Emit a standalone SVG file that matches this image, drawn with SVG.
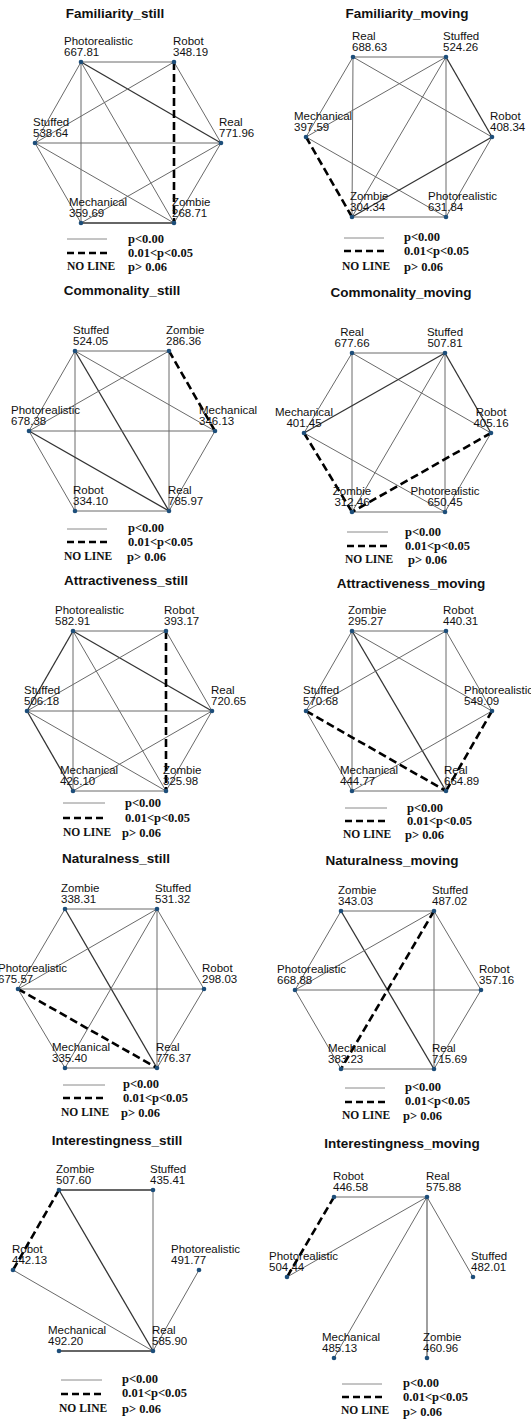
<svg xmlns="http://www.w3.org/2000/svg" width="531" height="1419" viewBox="0 0 531 1419">
<style>
.bg{fill:#ffffff}
.t{font-family:"Liberation Sans",Arial,sans-serif;font-weight:bold;font-size:13.5px;fill:#111;text-anchor:middle}
.lb{font-family:"Liberation Sans",Arial,sans-serif;font-size:11.5px;fill:#111}
.c{text-anchor:middle}
.n{fill:#1d4e7a}
.edges line{fill:none}
.e{stroke:#6a6a6a;stroke-width:1}
.d{stroke:#333;stroke-width:1.3}
.g{stroke:#888;stroke-width:1.6}
.x{stroke:#000;stroke-width:2.6;stroke-dasharray:8 4}
.ls{stroke:#8a8a8a;stroke-width:1}
.lx{stroke:#000;stroke-width:2.6;stroke-dasharray:7 4}
.lg{font-family:"Liberation Serif","Times New Roman",serif;font-weight:bold;font-size:12.5px;fill:#111}
.nl{font-family:"Liberation Serif","Times New Roman",serif;font-weight:bold;font-size:11.5px;fill:#111}
</style>
<rect class="bg" x="0" y="0" width="531" height="1419"/>

<!-- Panel 1 -->
<g id="familiarity-still">
<text class="t" x="115" y="18">Familiarity_still</text>
<g id="p1-edges" class="edges">
<line class="e" x1="81" y1="62" x2="174" y2="62"/>
<line class="e" x1="81" y1="62" x2="35" y2="143"/>
<line class="e" x1="81" y1="62" x2="81" y2="223"/>
<line class="d" x1="81" y1="62" x2="221" y2="143"/>
<line class="e" x1="81" y1="62" x2="174" y2="223"/>
<line class="e" x1="174" y1="62" x2="35" y2="143"/>
<line class="e" x1="174" y1="62" x2="221" y2="143"/>
<line class="e" x1="35" y1="143" x2="221" y2="143"/>
<line class="e" x1="35" y1="143" x2="81" y2="223"/>
<line class="e" x1="35" y1="143" x2="174" y2="223"/>
<line class="e" x1="221" y1="143" x2="81" y2="223"/>
<line class="e" x1="221" y1="143" x2="174" y2="223"/>
<line class="d" x1="81" y1="223" x2="174" y2="223"/>
<line class="x" x1="174" y1="62" x2="174" y2="223"/>
</g>
<g id="p1-photorealistic"><circle class="n" cx="81" cy="62" r="2.3"/><text class="lb" x="64" y="45">Photorealistic</text><text class="lb" x="64" y="56">667.81</text></g>
<g id="p1-robot"><circle class="n" cx="174" cy="62" r="2.3"/><text class="lb" x="173" y="45">Robot</text><text class="lb" x="173" y="56">348.19</text></g>
<g id="p1-real"><circle class="n" cx="221" cy="143" r="2.3"/><text class="lb" x="219" y="126">Real</text><text class="lb" x="219" y="137">771.96</text></g>
<g id="p1-zombie"><circle class="n" cx="174" cy="223" r="2.3"/><text class="lb" x="172" y="206">Zombie</text><text class="lb" x="172" y="217">268.71</text></g>
<g id="p1-mechanical"><circle class="n" cx="81" cy="223" r="2.3"/><text class="lb" x="69" y="206">Mechanical</text><text class="lb" x="69" y="217">359.69</text></g>
<g id="p1-stuffed"><circle class="n" cx="35" cy="143" r="2.3"/><text class="lb" x="33" y="126">Stuffed</text><text class="lb" x="33" y="137">538.64</text></g>
<g id="p1-legend"><line class="ls" x1="67" y1="239" x2="107" y2="239"/><line class="lx" x1="67" y1="253" x2="107" y2="253"/>
<text class="lg" x="128" y="243">p&lt;0.00</text><text class="lg" x="128" y="257">0.01&lt;p&lt;0.05</text><text class="nl" x="67" y="270">NO LINE</text><text class="lg" x="128" y="271">p&gt; 0.06</text></g>
</g>

<!-- Panel 2 -->
<g id="familiarity-moving">
<text class="t" x="407" y="18">Familiarity_moving</text>
<g id="p2-edges" class="edges">
<line class="e" x1="353" y1="57" x2="446" y2="57"/>
<line class="e" x1="353" y1="57" x2="306" y2="137"/>
<line class="e" x1="353" y1="57" x2="352" y2="217"/>
<line class="e" x1="353" y1="57" x2="492" y2="137"/>
<line class="e" x1="446" y1="57" x2="306" y2="137"/>
<line class="e" x1="446" y1="57" x2="352" y2="217"/>
<line class="e" x1="446" y1="57" x2="446" y2="217"/>
<line class="d" x1="446" y1="57" x2="492" y2="137"/>
<line class="e" x1="306" y1="137" x2="446" y2="217"/>
<line class="d" x1="492" y1="137" x2="352" y2="217"/>
<line class="e" x1="492" y1="137" x2="446" y2="217"/>
<line class="e" x1="352" y1="217" x2="446" y2="217"/>
<line class="x" x1="306" y1="137" x2="352" y2="217"/>
</g>
<g id="p2-real"><circle class="n" cx="353" cy="57" r="2.3"/><text class="lb" x="352" y="40">Real</text><text class="lb" x="352" y="51">688.63</text></g>
<g id="p2-stuffed"><circle class="n" cx="446" cy="57" r="2.3"/><text class="lb" x="443" y="40">Stuffed</text><text class="lb" x="443" y="51">524.26</text></g>
<g id="p2-robot"><circle class="n" cx="492" cy="137" r="2.3"/><text class="lb" x="490" y="120">Robot</text><text class="lb" x="490" y="131">408.34</text></g>
<g id="p2-photorealistic"><circle class="n" cx="446" cy="217" r="2.3"/><text class="lb" x="428" y="200">Photorealistic</text><text class="lb" x="428" y="211">631.84</text></g>
<g id="p2-zombie"><circle class="n" cx="352" cy="217" r="2.3"/><text class="lb" x="350" y="200">Zombie</text><text class="lb" x="350" y="211">304.34</text></g>
<g id="p2-mechanical"><circle class="n" cx="306" cy="137" r="2.3"/><text class="lb" x="294" y="120">Mechanical</text><text class="lb" x="294" y="131">397.59</text></g>
<g id="p2-legend"><line class="ls" x1="344" y1="238" x2="384" y2="238"/><line class="lx" x1="344" y1="251" x2="384" y2="251"/>
<text class="lg" x="404" y="241">p&lt;0.00</text><text class="lg" x="404" y="255">0.01&lt;p&lt;0.05</text><text class="nl" x="342" y="270">NO LINE</text><text class="lg" x="404" y="271">p&gt; 0.06</text></g>
</g>

<!-- Panel 3 -->
<g id="commonality-still">
<text class="t" x="122" y="295">Commonality_still</text>
<g id="p3-edges" class="edges">
<line class="e" x1="75" y1="351" x2="169" y2="351"/>
<line class="e" x1="75" y1="351" x2="29" y2="431"/>
<line class="e" x1="75" y1="351" x2="75" y2="511"/>
<line class="d" x1="75" y1="351" x2="169" y2="511"/>
<line class="e" x1="75" y1="351" x2="215" y2="431"/>
<line class="e" x1="169" y1="351" x2="29" y2="431"/>
<line class="e" x1="169" y1="351" x2="169" y2="511"/>
<line class="e" x1="29" y1="431" x2="215" y2="431"/>
<line class="e" x1="29" y1="431" x2="75" y2="511"/>
<line class="d" x1="29" y1="431" x2="169" y2="511"/>
<line class="e" x1="215" y1="431" x2="169" y2="511"/>
<line class="e" x1="75" y1="511" x2="169" y2="511"/>
<line class="x" x1="169" y1="351" x2="215" y2="431"/>
</g>
<g id="p3-stuffed"><circle class="n" cx="75" cy="351" r="2.3"/><text class="lb" x="73" y="334">Stuffed</text><text class="lb" x="73" y="345">524.05</text></g>
<g id="p3-zombie"><circle class="n" cx="169" cy="351" r="2.3"/><text class="lb" x="166" y="334">Zombie</text><text class="lb" x="166" y="345">286.36</text></g>
<g id="p3-mechanical"><circle class="n" cx="215" cy="431" r="2.3"/><text class="lb" x="199" y="414">Mechanical</text><text class="lb" x="199" y="425">346.13</text></g>
<g id="p3-real"><circle class="n" cx="169" cy="511" r="2.3"/><text class="lb" x="168" y="494">Real</text><text class="lb" x="168" y="505">785.97</text></g>
<g id="p3-robot"><circle class="n" cx="75" cy="511" r="2.3"/><text class="lb" x="73" y="494">Robot</text><text class="lb" x="73" y="505">334.10</text></g>
<g id="p3-photorealistic"><circle class="n" cx="29" cy="431" r="2.3"/><text class="lb" x="11" y="414">Photorealistic</text><text class="lb" x="11" y="425">678.38</text></g>
<g id="p3-legend"><line class="ls" x1="67" y1="529" x2="107" y2="529"/><line class="lx" x1="67" y1="542" x2="107" y2="542"/>
<text class="lg" x="128" y="532">p&lt;0.00</text><text class="lg" x="128" y="546">0.01&lt;p&lt;0.05</text><text class="nl" x="64" y="560">NO LINE</text><text class="lg" x="127" y="561">p&gt; 0.06</text></g>
</g>

<!-- Panel 4 -->
<g id="commonality-moving">
<text class="t" x="401" y="297">Commonality_moving</text>
<g id="p4-edges" class="edges">
<line class="e" x1="352" y1="353" x2="445" y2="353"/>
<line class="e" x1="352" y1="353" x2="304" y2="433"/>
<line class="e" x1="352" y1="353" x2="352" y2="512"/>
<line class="e" x1="352" y1="353" x2="491" y2="433"/>
<line class="d" x1="445" y1="353" x2="304" y2="433"/>
<line class="e" x1="445" y1="353" x2="352" y2="512"/>
<line class="e" x1="445" y1="353" x2="445" y2="512"/>
<line class="d" x1="445" y1="353" x2="491" y2="433"/>
<line class="e" x1="304" y1="433" x2="445" y2="512"/>
<line class="e" x1="491" y1="433" x2="445" y2="512"/>
<line class="e" x1="352" y1="512" x2="445" y2="512"/>
<line class="x" x1="304" y1="433" x2="352" y2="512"/>
<line class="x" x1="491" y1="433" x2="352" y2="512"/>
</g>
<g id="p4-real"><circle class="n" cx="352" cy="353" r="2.3"/><text class="lb c" x="352" y="336">Real</text><text class="lb c" x="352" y="347">677.66</text></g>
<g id="p4-stuffed"><circle class="n" cx="445" cy="353" r="2.3"/><text class="lb c" x="445" y="336">Stuffed</text><text class="lb c" x="445" y="347">507.81</text></g>
<g id="p4-robot"><circle class="n" cx="491" cy="433" r="2.3"/><text class="lb c" x="491" y="416">Robot</text><text class="lb c" x="491" y="427">405.16</text></g>
<g id="p4-photorealistic"><circle class="n" cx="445" cy="512" r="2.3"/><text class="lb c" x="445" y="495">Photorealistic</text><text class="lb c" x="445" y="506">650.45</text></g>
<g id="p4-zombie"><circle class="n" cx="352" cy="512" r="2.3"/><text class="lb c" x="352" y="495">Zombie</text><text class="lb c" x="352" y="506">312.46</text></g>
<g id="p4-mechanical"><circle class="n" cx="304" cy="433" r="2.3"/><text class="lb c" x="304" y="416">Mechanical</text><text class="lb c" x="304" y="427">401.45</text></g>
<g id="p4-legend"><line class="ls" x1="347" y1="532" x2="388" y2="532"/><line class="lx" x1="347" y1="546" x2="388" y2="546"/>
<text class="lg" x="405" y="536">p&lt;0.00</text><text class="lg" x="405" y="550">0.01&lt;p&lt;0.05</text><text class="nl" x="345" y="563">NO LINE</text><text class="lg" x="408" y="564">p&gt; 0.06</text></g>
</g>

<!-- Panel 5 -->
<g id="attractiveness-still">
<text class="t" x="126" y="585">Attractiveness_still</text>
<g id="p5-edges" class="edges">
<line class="e" x1="73" y1="631" x2="166" y2="631"/>
<line class="d" x1="73" y1="631" x2="27" y2="711"/>
<line class="e" x1="73" y1="631" x2="73" y2="791"/>
<line class="d" x1="73" y1="631" x2="212" y2="711"/>
<line class="e" x1="73" y1="631" x2="166" y2="791"/>
<line class="e" x1="166" y1="631" x2="27" y2="711"/>
<line class="e" x1="166" y1="631" x2="212" y2="711"/>
<line class="e" x1="27" y1="711" x2="212" y2="711"/>
<line class="d" x1="27" y1="711" x2="73" y2="791"/>
<line class="e" x1="27" y1="711" x2="166" y2="791"/>
<line class="e" x1="212" y1="711" x2="73" y2="791"/>
<line class="e" x1="212" y1="711" x2="166" y2="791"/>
<line class="e" x1="73" y1="791" x2="166" y2="791"/>
<line class="x" x1="166" y1="631" x2="166" y2="791"/>
</g>
<g id="p5-photorealistic"><circle class="n" cx="73" cy="631" r="2.3"/><text class="lb" x="55" y="614">Photorealistic</text><text class="lb" x="55" y="625">582.91</text></g>
<g id="p5-robot"><circle class="n" cx="166" cy="631" r="2.3"/><text class="lb" x="164" y="614">Robot</text><text class="lb" x="164" y="625">393.17</text></g>
<g id="p5-real"><circle class="n" cx="212" cy="711" r="2.3"/><text class="lb" x="211" y="694">Real</text><text class="lb" x="211" y="705">720.65</text></g>
<g id="p5-zombie"><circle class="n" cx="166" cy="791" r="2.3"/><text class="lb" x="163" y="774">Zombie</text><text class="lb" x="163" y="785">325.98</text></g>
<g id="p5-mechanical"><circle class="n" cx="73" cy="791" r="2.3"/><text class="lb" x="60" y="774">Mechanical</text><text class="lb" x="60" y="785">426.10</text></g>
<g id="p5-stuffed"><circle class="n" cx="27" cy="711" r="2.3"/><text class="lb" x="24" y="694">Stuffed</text><text class="lb" x="24" y="705">506.18</text></g>
<g id="p5-legend"><line class="ls" x1="63" y1="803" x2="105" y2="803"/><line class="lx" x1="63" y1="818" x2="105" y2="818"/>
<text class="lg" x="125" y="807">p&lt;0.00</text><text class="lg" x="125" y="822">0.01&lt;p&lt;0.05</text><text class="nl" x="63" y="836">NO LINE</text><text class="lg" x="122" y="837">p&gt; 0.06</text></g>
</g>

<!-- Panel 6 -->
<g id="attractiveness-moving">
<text class="t" x="411" y="588">Attractiveness_moving</text>
<g id="p6-edges" class="edges">
<line class="e" x1="352" y1="631" x2="446" y2="631"/>
<line class="e" x1="352" y1="631" x2="306" y2="711"/>
<line class="e" x1="352" y1="631" x2="352" y2="791"/>
<line class="d" x1="352" y1="631" x2="446" y2="791"/>
<line class="e" x1="352" y1="631" x2="492" y2="711"/>
<line class="e" x1="446" y1="631" x2="306" y2="711"/>
<line class="e" x1="446" y1="631" x2="492" y2="711"/>
<line class="e" x1="446" y1="631" x2="446" y2="791"/>
<line class="e" x1="306" y1="711" x2="352" y2="791"/>
<line class="e" x1="492" y1="711" x2="352" y2="791"/>
<line class="e" x1="352" y1="791" x2="446" y2="791"/>
<line class="x" x1="306" y1="711" x2="446" y2="791"/>
<line class="x" x1="492" y1="711" x2="446" y2="791"/>
</g>
<g id="p6-zombie"><circle class="n" cx="352" cy="631" r="2.3"/><text class="lb" x="348" y="614">Zombie</text><text class="lb" x="348" y="625">295.27</text></g>
<g id="p6-robot"><circle class="n" cx="446" cy="631" r="2.3"/><text class="lb" x="443" y="614">Robot</text><text class="lb" x="443" y="625">440.31</text></g>
<g id="p6-photorealistic"><circle class="n" cx="492" cy="711" r="2.3"/><text class="lb" x="464" y="694">Photorealistic</text><text class="lb" x="464" y="705">549.09</text></g>
<g id="p6-real"><circle class="n" cx="446" cy="791" r="2.3"/><text class="lb" x="444" y="774">Real</text><text class="lb" x="444" y="785">664.89</text></g>
<g id="p6-mechanical"><circle class="n" cx="352" cy="791" r="2.3"/><text class="lb" x="340" y="774">Mechanical</text><text class="lb" x="340" y="785">444.77</text></g>
<g id="p6-stuffed"><circle class="n" cx="306" cy="711" r="2.3"/><text class="lb" x="303" y="694">Stuffed</text><text class="lb" x="303" y="705">570.68</text></g>
<g id="p6-legend"><line class="ls" x1="345" y1="808" x2="387" y2="808"/><line class="lx" x1="345" y1="821" x2="387" y2="821"/>
<text class="lg" x="407" y="812">p&lt;0.00</text><text class="lg" x="407" y="825">0.01&lt;p&lt;0.05</text><text class="nl" x="343" y="838">NO LINE</text><text class="lg" x="405" y="839">p&gt; 0.06</text></g>
</g>

<!-- Panel 7 -->
<g id="naturalness-still">
<text class="t" x="116" y="863">Naturalness_still</text>
<g id="p7-edges" class="edges">
<line class="e" x1="65" y1="909" x2="157" y2="909"/>
<line class="e" x1="65" y1="909" x2="18" y2="989"/>
<line class="d" x1="65" y1="909" x2="157" y2="1068"/>
<line class="e" x1="157" y1="909" x2="18" y2="989"/>
<line class="e" x1="157" y1="909" x2="65" y2="1068"/>
<line class="e" x1="157" y1="909" x2="157" y2="1068"/>
<line class="e" x1="157" y1="909" x2="204" y2="989"/>
<line class="e" x1="18" y1="989" x2="204" y2="989"/>
<line class="e" x1="18" y1="989" x2="65" y2="1068"/>
<line class="e" x1="204" y1="989" x2="157" y2="1068"/>
<line class="e" x1="65" y1="1068" x2="157" y2="1068"/>
<line class="x" x1="18" y1="989" x2="157" y2="1068"/>
</g>
<g id="p7-zombie"><circle class="n" cx="65" cy="909" r="2.3"/><text class="lb" x="61" y="892">Zombie</text><text class="lb" x="61" y="903">338.31</text></g>
<g id="p7-stuffed"><circle class="n" cx="157" cy="909" r="2.3"/><text class="lb" x="155" y="892">Stuffed</text><text class="lb" x="155" y="903">531.32</text></g>
<g id="p7-robot"><circle class="n" cx="204" cy="989" r="2.3"/><text class="lb" x="202" y="972">Robot</text><text class="lb" x="202" y="983">298.03</text></g>
<g id="p7-real"><circle class="n" cx="157" cy="1068" r="2.3"/><text class="lb" x="156" y="1051">Real</text><text class="lb" x="156" y="1062">776.37</text></g>
<g id="p7-mechanical"><circle class="n" cx="65" cy="1068" r="2.3"/><text class="lb" x="52" y="1051">Mechanical</text><text class="lb" x="52" y="1062">335.40</text></g>
<g id="p7-photorealistic"><circle class="n" cx="18" cy="989" r="2.3"/><text class="lb" x="-2" y="972">Photorealistic</text><text class="lb" x="-2" y="983">675.57</text></g>
<g id="p7-legend"><line class="ls" x1="63" y1="1085" x2="105" y2="1085"/><line class="lx" x1="63" y1="1098" x2="105" y2="1098"/>
<text class="lg" x="123" y="1088">p&lt;0.00</text><text class="lg" x="123" y="1102">0.01&lt;p&lt;0.05</text><text class="nl" x="61" y="1116">NO LINE</text><text class="lg" x="121" y="1117">p&gt; 0.06</text></g>
</g>

<!-- Panel 8 -->
<g id="naturalness-moving">
<text class="t" x="392" y="865">Naturalness_moving</text>
<g id="p8-edges" class="edges">
<line class="e" x1="341" y1="911" x2="434" y2="911"/>
<line class="e" x1="341" y1="911" x2="295" y2="990"/>
<line class="d" x1="341" y1="911" x2="434" y2="1069"/>
<line class="e" x1="434" y1="911" x2="295" y2="990"/>
<line class="e" x1="434" y1="911" x2="434" y2="1069"/>
<line class="e" x1="434" y1="911" x2="481" y2="990"/>
<line class="e" x1="295" y1="990" x2="481" y2="990"/>
<line class="e" x1="295" y1="990" x2="341" y2="1069"/>
<line class="e" x1="481" y1="990" x2="434" y2="1069"/>
<line class="e" x1="341" y1="1069" x2="434" y2="1069"/>
<line class="x" x1="434" y1="911" x2="341" y2="1069"/>
</g>
<g id="p8-zombie"><circle class="n" cx="341" cy="911" r="2.3"/><text class="lb" x="338" y="894">Zombie</text><text class="lb" x="338" y="905">343.03</text></g>
<g id="p8-stuffed"><circle class="n" cx="434" cy="911" r="2.3"/><text class="lb" x="432" y="894">Stuffed</text><text class="lb" x="432" y="905">487.02</text></g>
<g id="p8-robot"><circle class="n" cx="481" cy="990" r="2.3"/><text class="lb" x="479" y="973">Robot</text><text class="lb" x="479" y="984">357.16</text></g>
<g id="p8-real"><circle class="n" cx="434" cy="1069" r="2.3"/><text class="lb" x="432" y="1052">Real</text><text class="lb" x="432" y="1063">715.69</text></g>
<g id="p8-mechanical"><circle class="n" cx="341" cy="1069" r="2.3"/><text class="lb" x="328" y="1052">Mechanical</text><text class="lb" x="328" y="1063">383.23</text></g>
<g id="p8-photorealistic"><circle class="n" cx="295" cy="990" r="2.3"/><text class="lb" x="277" y="973">Photorealistic</text><text class="lb" x="277" y="984">668.88</text></g>
<g id="p8-legend"><line class="ls" x1="345" y1="1088" x2="385" y2="1088"/><line class="lx" x1="345" y1="1102" x2="385" y2="1102"/>
<text class="lg" x="405" y="1091">p&lt;0.00</text><text class="lg" x="405" y="1105">0.01&lt;p&lt;0.05</text><text class="nl" x="342" y="1119">NO LINE</text><text class="lg" x="403" y="1120">p&gt; 0.06</text></g>
</g>

<!-- Panel 9 -->
<g id="interestingness-still">
<text class="t" x="117" y="1145">Interestingness_still</text>
<g id="p9-edges" class="edges">
<line class="d" x1="59" y1="1190" x2="153" y2="1190"/>
<line class="d" x1="59" y1="1190" x2="153" y2="1351"/>
<line class="e" x1="153" y1="1190" x2="153" y2="1351"/>
<line class="e" x1="13" y1="1270" x2="153" y2="1351"/>
<line class="e" x1="199" y1="1270" x2="153" y2="1351"/>
<line class="d" x1="59" y1="1351" x2="153" y2="1351"/>
<line class="x" x1="59" y1="1190" x2="13" y2="1270"/>
</g>
<g id="p9-zombie"><circle class="n" cx="59" cy="1190" r="2.3"/><text class="lb" x="56" y="1173">Zombie</text><text class="lb" x="56" y="1184">507.60</text></g>
<g id="p9-stuffed"><circle class="n" cx="153" cy="1190" r="2.3"/><text class="lb" x="150" y="1173">Stuffed</text><text class="lb" x="150" y="1184">435.41</text></g>
<g id="p9-photorealistic"><circle class="n" cx="199" cy="1270" r="2.3"/><text class="lb" x="171" y="1253">Photorealistic</text><text class="lb" x="171" y="1264">491.77</text></g>
<g id="p9-real"><circle class="n" cx="153" cy="1351" r="2.3"/><text class="lb" x="152" y="1334">Real</text><text class="lb" x="152" y="1345">585.90</text></g>
<g id="p9-mechanical"><circle class="n" cx="59" cy="1351" r="2.3"/><text class="lb" x="48" y="1334">Mechanical</text><text class="lb" x="48" y="1345">492.20</text></g>
<g id="p9-robot"><circle class="n" cx="13" cy="1270" r="2.3"/><text class="lb" x="12" y="1253">Robot</text><text class="lb" x="12" y="1264">442.13</text></g>
<g id="p9-legend"><line class="ls" x1="61" y1="1380" x2="102" y2="1380"/><line class="lx" x1="61" y1="1394" x2="102" y2="1394"/>
<text class="lg" x="122" y="1383">p&lt;0.00</text><text class="lg" x="122" y="1397">0.01&lt;p&lt;0.05</text><text class="nl" x="59" y="1412">NO LINE</text><text class="lg" x="122" y="1413">p&gt; 0.06</text></g>
</g>

<!-- Panel 10 -->
<g id="interestingness-moving">
<text class="t" x="402" y="1148">Interestingness_moving</text>
<g id="p10-edges" class="edges">
<line class="e" x1="334" y1="1197" x2="427" y2="1197"/>
<line class="e" x1="427" y1="1197" x2="287" y2="1277"/>
<line class="e" x1="427" y1="1197" x2="334" y2="1358"/>
<line class="g" x1="427" y1="1197" x2="427" y2="1358"/>
<line class="e" x1="427" y1="1197" x2="473" y2="1277"/>
<line class="x" x1="334" y1="1197" x2="287" y2="1277"/>
</g>
<g id="p10-robot"><circle class="n" cx="334" cy="1197" r="2.3"/><text class="lb" x="333" y="1180">Robot</text><text class="lb" x="333" y="1191">446.58</text></g>
<g id="p10-real"><circle class="n" cx="427" cy="1197" r="2.3"/><text class="lb" x="426" y="1180">Real</text><text class="lb" x="426" y="1191">575.88</text></g>
<g id="p10-stuffed"><circle class="n" cx="473" cy="1277" r="2.3"/><text class="lb" x="471" y="1260">Stuffed</text><text class="lb" x="471" y="1271">482.01</text></g>
<g id="p10-zombie"><circle class="n" cx="427" cy="1358" r="2.3"/><text class="lb" x="423" y="1341">Zombie</text><text class="lb" x="423" y="1352">460.96</text></g>
<g id="p10-mechanical"><circle class="n" cx="334" cy="1358" r="2.3"/><text class="lb" x="322" y="1341">Mechanical</text><text class="lb" x="322" y="1352">485.13</text></g>
<g id="p10-photorealistic"><circle class="n" cx="287" cy="1277" r="2.3"/><text class="lb" x="269" y="1260">Photorealistic</text><text class="lb" x="269" y="1271">504.44</text></g>
<g id="p10-legend"><line class="ls" x1="342" y1="1384" x2="382" y2="1384"/><line class="lx" x1="342" y1="1397" x2="382" y2="1397"/>
<text class="lg" x="403" y="1387">p&lt;0.00</text><text class="lg" x="403" y="1401">0.01&lt;p&lt;0.05</text><text class="nl" x="341" y="1414">NO LINE</text><text class="lg" x="403" y="1416">p&gt; 0.06</text></g>
</g>
</svg>
